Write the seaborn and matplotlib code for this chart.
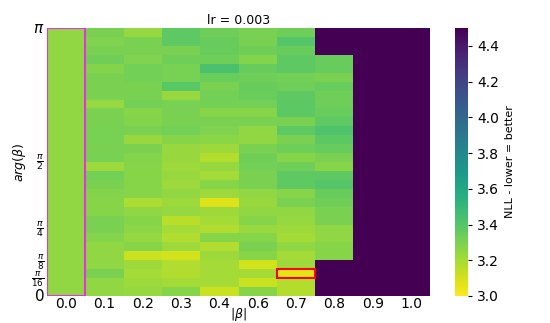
import numpy as np
import pandas as pd
import matplotlib
matplotlib.use('Agg')
import matplotlib.pyplot as plt
import seaborn as sns
from matplotlib.patches import Rectangle

# |beta| values (columns) and arg(beta) rows, top row = pi, bottom row = 0
beta_abs = ['0.0', '0.1', '0.2', '0.3', '0.4', '0.6', '0.7', '0.8', '0.9', '1.0']
n_rows = 30
DIV = 6.0  # diverged runs, shown at the top of the colour scale

nll_00 = [3.25] * 30
nll_01 = [3.30, 3.29, 3.30, 3.33, 3.28, 3.30, 3.30, 3.30, 3.24, 3.30,
          3.30, 3.31, 3.31, 3.30, 3.31, 3.22, 3.32, 3.30, 3.28, 3.27,
          3.27, 3.30, 3.30, 3.28, 3.25, 3.25, 3.25, 3.30, 3.25, 3.25]
nll_02 = [3.24, 3.30, 3.30, 3.29, 3.32, 3.32, 3.30, 3.30, 3.32, 3.27,
          3.28, 3.30, 3.23, 3.30, 3.28, 3.27, 3.27, 3.27, 3.27, 3.19,
          3.25, 3.27, 3.26, 3.24, 3.27, 3.12, 3.22, 3.20, 3.22, 3.24]
nll_03 = [3.37, 3.37, 3.30, 3.33, 3.31, 3.31, 3.39, 3.23, 3.31, 3.30,
          3.30, 3.32, 3.27, 3.23, 3.23, 3.22, 3.23, 3.22, 3.25, 3.22,
          3.24, 3.16, 3.20, 3.18, 3.22, 3.10, 3.18, 3.18, 3.20, 3.27]
nll_04 = [3.33, 3.35, 3.35, 3.33, 3.43, 3.34, 3.30, 3.32, 3.32, 3.27,
          3.30, 3.29, 3.26, 3.22, 3.17, 3.24, 3.20, 3.27, 3.22, 3.08,
          3.22, 3.20, 3.18, 3.27, 3.18, 3.22, 3.20, 3.20, 3.20, 3.12]
nll_06 = [3.30, 3.30, 3.33, 3.28, 3.35, 3.33, 3.35, 3.34, 3.32, 3.27,
          3.30, 3.25, 3.25, 3.30, 3.33, 3.32, 3.30, 3.30, 3.25, 3.23,
          3.25, 3.27, 3.23, 3.27, 3.30, 3.27, 3.10, 3.20, 3.12, 3.27]
nll_07 = [3.33, 3.40, 3.35, 3.37, 3.37, 3.32, 3.33, 3.37, 3.38, 3.38,
          3.30, 3.37, 3.30, 3.33, 3.27, 3.33, 3.37, 3.37, 3.27, 3.30,
          3.25, 3.24, 3.22, 3.20, 3.25, 3.20, 3.22, 3.06, 3.17, 3.17]
nll_08 = [DIV, DIV, DIV, 3.35, 3.35, 3.30, 3.35, 3.33, 3.33, 3.35,
          3.37, 3.42, 3.38, 3.35, 3.30, 3.27, 3.37, 3.40, 3.35, 3.33,
          3.30, 3.30, 3.25, 3.25, 3.27, 3.27, DIV, DIV, DIV, DIV]
nll_09 = [DIV] * 30
nll_10 = [DIV] * 30

cols = [nll_00, nll_01, nll_02, nll_03, nll_04, nll_06, nll_07, nll_08, nll_09, nll_10]
df = pd.DataFrame(np.array(cols).T, columns=beta_abs)

ytick_vals = [np.pi, np.pi / 2, np.pi / 4, np.pi / 8, np.pi / 16, 0]
ytick_labels = [r'$\pi$', r'$\frac{\pi}{2}$', r'$\frac{\pi}{4}$',
                r'$\frac{\pi}{8}$', r'$\frac{\pi}{16}$', r'$0$']
ytick_sizes = [11, 9.5, 9.5, 9, 9, 11]

fig = plt.figure(figsize=(5.5, 3.23), dpi=100)
ax = fig.add_axes([0.0855, 0.0836, 0.6965, 0.8294])
cax = fig.add_axes([0.827, 0.0836, 0.024, 0.8294])

sns.heatmap(df, ax=ax, cbar_ax=cax, cmap='viridis_r', vmin=3.0, vmax=4.5,
            cbar_kws={'label': 'NLL - lower = better'})

# y ticks placed on a linear arg(beta) scale, top = pi
ax.set_yticks([n_rows * (1 - v / np.pi) for v in ytick_vals])
ax.set_yticklabels(ytick_labels, rotation=0)
for lab, s in zip(ax.get_yticklabels(), ytick_sizes):
    lab.set_fontsize(s)
ax.set_xticklabels(beta_abs, rotation=0, fontsize=10)
ax.tick_params(length=0)
ax.tick_params(axis='x', pad=1)
ax.tick_params(axis='y', pad=2)
ax.set_xlabel(r'$|\beta|$', fontsize=9)
ax.xaxis.set_label_coords(0.5, -0.038)
ax.set_ylabel(r'$arg(\beta)$', fontsize=9, labelpad=2)
ax.set_title('lr = 0.003', fontsize=9, pad=3)

# baseline column (|beta| = 0) in magenta
ax.add_patch(Rectangle((0, 0), 1, n_rows, fill=False, edgecolor='#e832e0', lw=1.5))

# best cell outside the baseline in red
sub = df.iloc[:, 1:].values
r, c = np.unravel_index(np.argmin(sub), sub.shape)
ax.add_patch(Rectangle((c + 1, r), 1, 1, fill=False, edgecolor='red', lw=1.5))

cax.set_yticks(np.arange(3.0, 4.41, 0.2))
cax.tick_params(labelsize=10, length=3)
cax.yaxis.label.set_size(8)

fig.savefig('out.png', dpi=100)
